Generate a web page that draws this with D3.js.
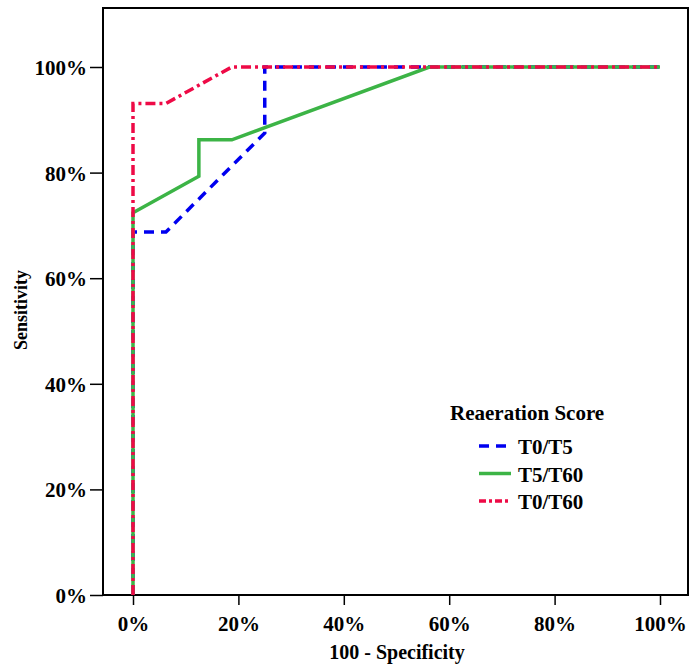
<!DOCTYPE html>
<html>
<head>
<meta charset="utf-8">
<script src="https://cdn.jsdelivr.net/npm/d3@7"></script>
<style>
  body { margin: 0; background: #fff; }
  text { font-family: "Liberation Serif", "DejaVu Serif", serif; font-weight: bold; }
</style>
</head>
<body>
<script>
// ROC curves, values in percent
const seriesNames = ["T0/T5", "T5/T60", "T0/T60"];
const t0t5 = [[0, 0], [0, 68.75], [6.25, 68.75], [25, 87.5], [25, 100], [100, 100]];
const t5t60 = [[0, 0], [0, 72.4], [12.5, 79.3], [12.5, 86.2], [18.75, 86.2], [56.25, 100], [100, 100]];
const t0t60 = [[0, 0], [0, 93.1], [6.25, 93.1], [18.75, 100], [100, 100]];
const tickValues = [0, 20, 40, 60, 80, 100];

const width = 689, height = 666;
const svg = d3.select("body").append("svg")
    .attr("width", width)
    .attr("height", height);

const x = d3.scaleLinear().domain([0, 100]).range([133, 660]);
const y = d3.scaleLinear().domain([0, 100]).range([595, 67]);

const plotLeft = 103, plotRight = 688, plotTop = 8, plotBottom = 595;

// y axis
const yAxis = d3.axisLeft(y).tickValues(tickValues).tickSize(13).tickFormat(d => d + "%");
svg.append("g")
    .attr("transform", "translate(" + plotLeft + ",0)")
    .call(yAxis)
    .call(g => g.select(".domain").remove())
    .call(g => g.selectAll("line").attr("stroke", "#000").attr("stroke-width", 1.5))
    .call(g => g.selectAll("text").attr("fill", "#000").attr("x", -16).attr("dy", "0.36em").attr("font-size", 21));

// x axis
const xAxis = d3.axisBottom(x).tickValues(tickValues).tickSize(10).tickFormat(d => d + "%");
svg.append("g")
    .attr("transform", "translate(0," + plotBottom + ")")
    .call(xAxis)
    .call(g => g.select(".domain").remove())
    .call(g => g.selectAll("line").attr("stroke", "#000").attr("stroke-width", 1.5))
    .call(g => g.selectAll("text").attr("font-size", 21).attr("fill", "#000").attr("y", 36).attr("dy", null));

// frame
svg.append("rect")
    .attr("x", plotLeft).attr("y", plotTop)
    .attr("width", plotRight - plotLeft).attr("height", plotBottom - plotTop)
    .attr("fill", "none").attr("stroke", "#000").attr("stroke-width", 2);

const line = d3.line().x(d => x(d[0])).y(d => y(d[1]));

const styles = [
    { data: t0t5, color: "#0000f0", dash: "10,7" },
    { data: t5t60, color: "#3cb446", dash: null },
    { data: t0t60, color: "#ee0a46", dash: "10,4,3,4" }
];

styles.forEach(s => {
    svg.append("path")
        .datum(s.data)
        .attr("d", line)
        .attr("fill", "none")
        .attr("stroke", s.color)
        .attr("stroke-width", 3.5)
        .attr("stroke-dasharray", s.dash);
});

// axis titles
svg.append("text")
    .attr("x", 397).attr("y", 659)
    .attr("text-anchor", "middle")
    .attr("font-size", 20)
    .text("100 - Specificity");

svg.append("text")
    .attr("transform", "translate(27,310) rotate(-90)")
    .attr("text-anchor", "middle")
    .attr("font-size", 18)
    .text("Sensitivity");

// legend
const legend = svg.append("g");
legend.append("text")
    .attr("x", 450).attr("y", 420)
    .attr("font-size", 21)
    .text("Reaeration Score");

styles.forEach((s, i) => {
    const cy = 446 + i * 27.5;
    legend.append("line")
        .attr("x1", 479).attr("x2", 511)
        .attr("y1", cy).attr("y2", cy)
        .attr("stroke", s.color)
        .attr("stroke-width", 3.5)
        .attr("stroke-dasharray", i === 0 ? "10,7" : (i === 2 ? "7,3,3,3" : null));
    legend.append("text")
        .attr("x", 518).attr("y", cy + 8)
        .attr("font-size", 21)
        .text(seriesNames[i]);
});
</script>
</body>
</html>
